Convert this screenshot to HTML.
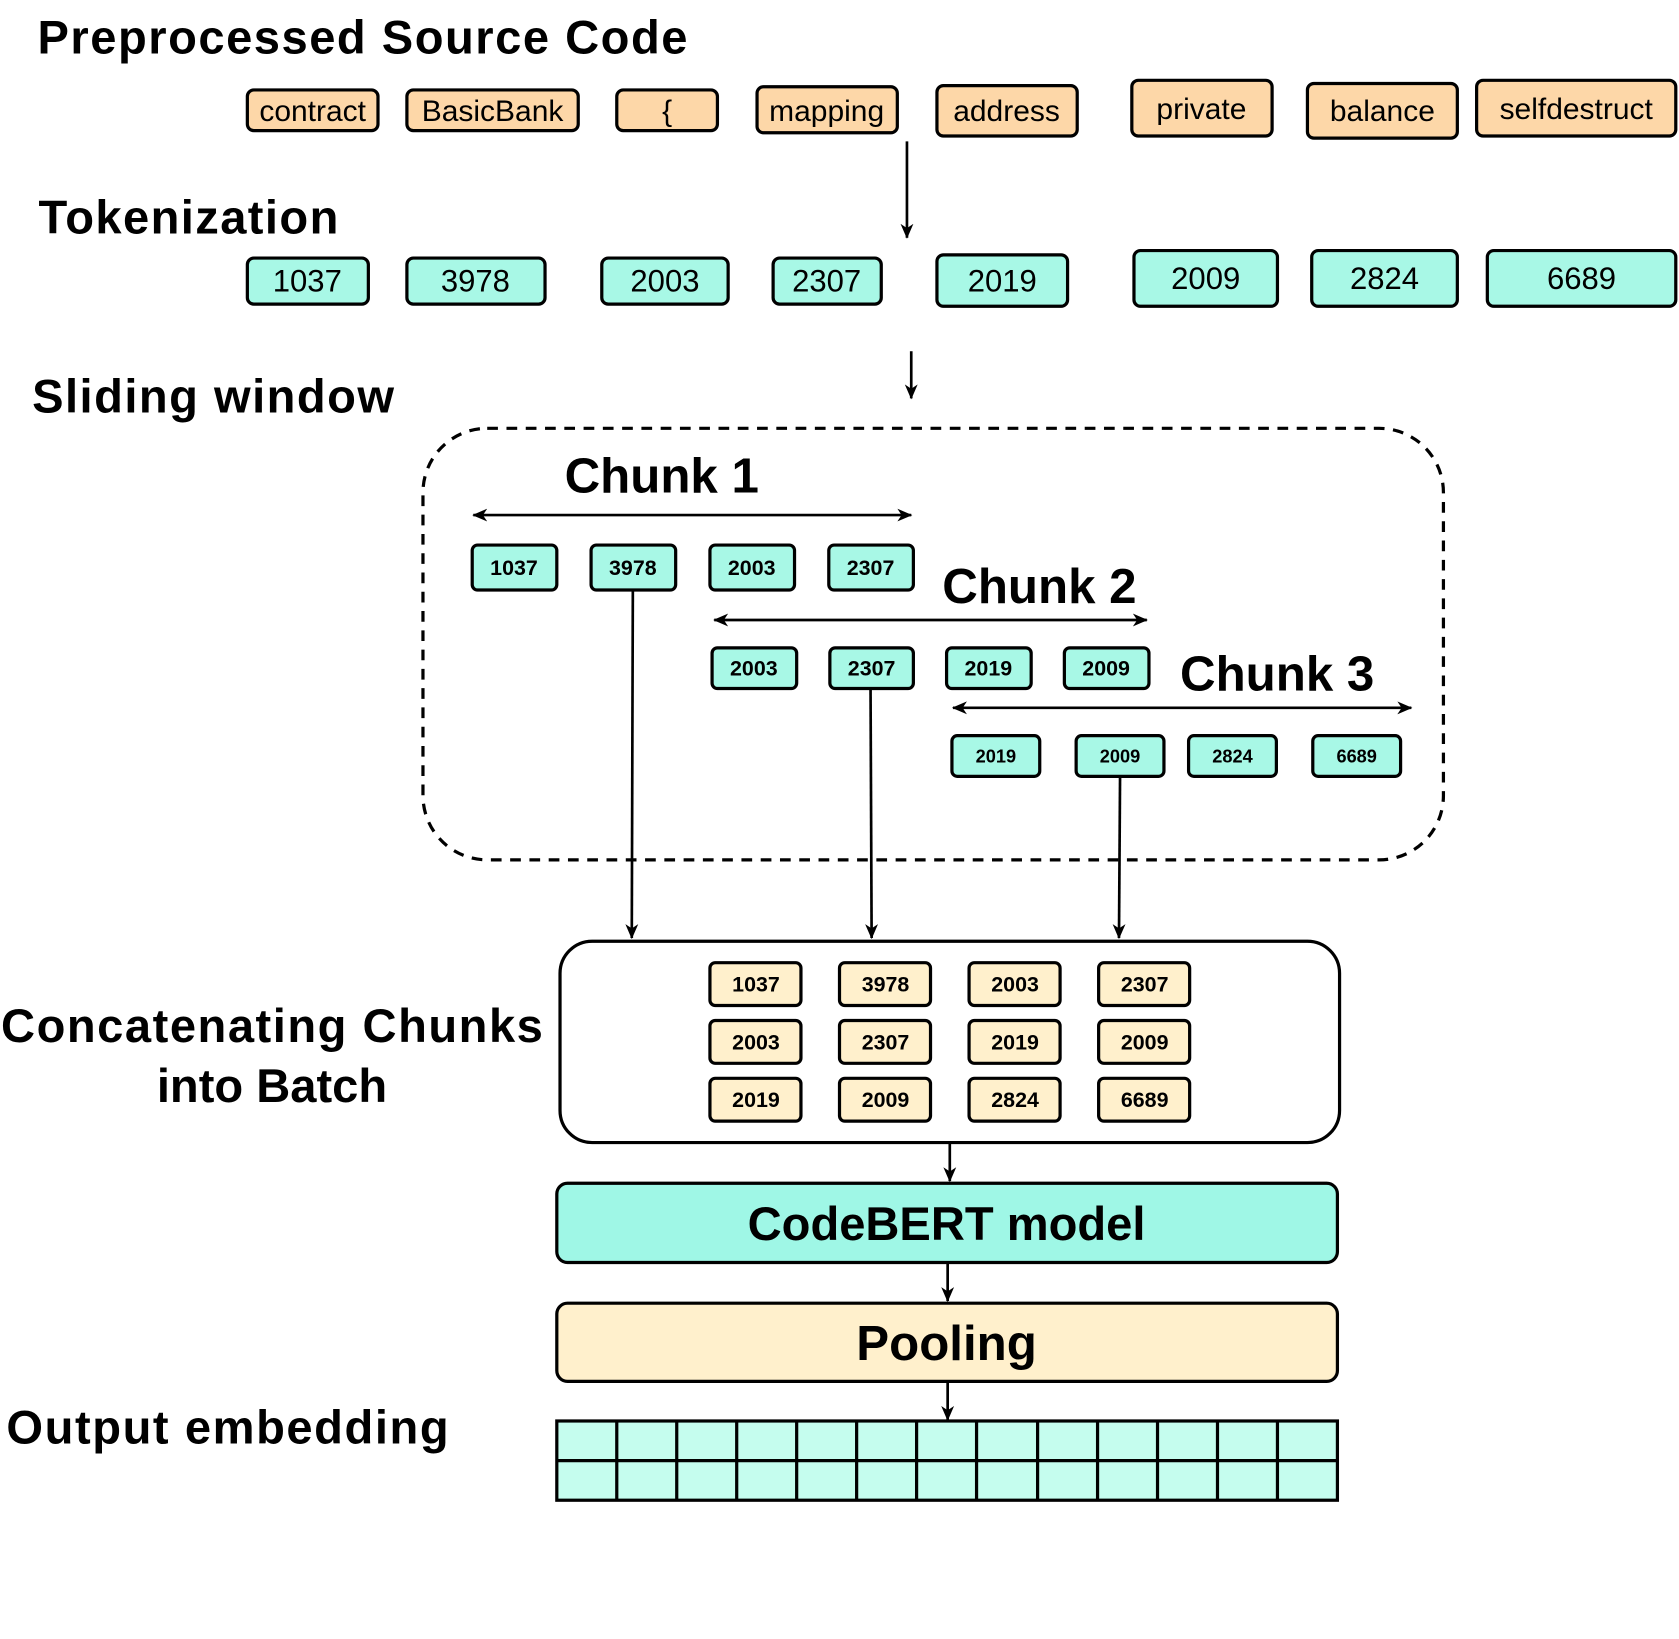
<!DOCTYPE html>
<html><head><meta charset="utf-8"><style>
html,body{margin:0;padding:0;background:#fff;}
svg{display:block;}
text{font-family:"Liberation Sans",Arial,sans-serif;fill:#000;}
.b{font-weight:bold;}
</style></head><body>
<svg width="1679" height="1639" viewBox="0 0 1568 1530.6" preserveAspectRatio="none" xmlns="http://www.w3.org/2000/svg">
<defs>
<marker id="a" markerWidth="14" markerHeight="14" refX="13" refY="7" orient="auto" markerUnits="userSpaceOnUse"><path d="M0,1 L14,7 L0,13 L4,7 z" fill="#000"/></marker>
<marker id="s" markerWidth="14" markerHeight="14" refX="1" refY="7" orient="auto" markerUnits="userSpaceOnUse"><path d="M14,1 L0,7 L14,13 L10,7 z" fill="#000"/></marker>
</defs>
<text x="35" y="50" class="b" font-size="44" textLength="607">Preprocessed Source Code</text>
<g stroke="#000" stroke-width="3" fill="#fdd7a8">
<rect x="231" y="84" width="122" height="38" rx="6"/>
<rect x="380" y="84" width="160" height="38" rx="6"/>
<rect x="576" y="84" width="94" height="38" rx="6"/>
<rect x="707" y="81" width="131" height="43" rx="6"/>
<rect x="875" y="80" width="131" height="47" rx="6"/>
<rect x="1057" y="75" width="131" height="52" rx="6"/>
<rect x="1221" y="78" width="140" height="51" rx="6"/>
<rect x="1379" y="75" width="186" height="52" rx="6"/>
</g>
<g font-size="28" text-anchor="middle">
<text x="292" y="113">contract</text>
<text x="460" y="113">BasicBank</text>
<text x="623" y="113">{</text>
<text x="772" y="113">mapping</text>
<text x="940" y="113">address</text>
<text x="1122" y="111">private</text>
<text x="1291" y="113">balance</text>
<text x="1472" y="111">selfdestruct</text>
</g>
<line x1="847" y1="132" x2="847" y2="222" stroke="#000" stroke-width="2.5" marker-end="url(#a)"/>
<text x="36" y="218" class="b" font-size="44" textLength="280">Tokenization</text>
<g stroke="#000" stroke-width="3" fill="#a8f8e6">
<rect x="231" y="241" width="113" height="43" rx="6"/>
<rect x="380" y="241" width="129" height="43" rx="6"/>
<rect x="562" y="241" width="118" height="43" rx="6"/>
<rect x="722" y="241" width="101" height="43" rx="6"/>
<rect x="875" y="238" width="122" height="48" rx="6"/>
<rect x="1059" y="234" width="134" height="52" rx="6"/>
<rect x="1225" y="234" width="136" height="52" rx="6"/>
<rect x="1389" y="234" width="176" height="52" rx="6"/>
</g>
<g font-size="29" text-anchor="middle">
<text x="287" y="272">1037</text>
<text x="444" y="272">3978</text>
<text x="621" y="272">2003</text>
<text x="772" y="272">2307</text>
<text x="936" y="272">2019</text>
<text x="1126" y="270">2009</text>
<text x="1293" y="270">2824</text>
<text x="1477" y="270">6689</text>
</g>
<line x1="851" y1="328" x2="851" y2="372" stroke="#000" stroke-width="2.5" marker-end="url(#a)"/>
<text x="30" y="385" class="b" font-size="44" textLength="338">Sliding window</text>
<rect x="395" y="400" width="953" height="403" rx="60" fill="none" stroke="#000" stroke-width="3" stroke-dasharray="10,8"/>
<text x="618" y="460" class="b" font-size="46" text-anchor="middle">Chunk 1</text>
<line x1="442" y1="481" x2="851" y2="481" stroke="#000" stroke-width="2.5" marker-start="url(#s)" marker-end="url(#a)"/>
<text x="880" y="563" class="b" font-size="46">Chunk 2</text>
<line x1="667" y1="579" x2="1071" y2="579" stroke="#000" stroke-width="2.5" marker-start="url(#s)" marker-end="url(#a)"/>
<text x="1102" y="645" class="b" font-size="46">Chunk 3</text>
<line x1="890" y1="661" x2="1318" y2="661" stroke="#000" stroke-width="2.5" marker-start="url(#s)" marker-end="url(#a)"/>
<g stroke="#000" stroke-width="3" fill="#a8f8e6">
<rect x="441" y="509" width="79" height="42" rx="5"/>
<rect x="552" y="509" width="79" height="42" rx="5"/>
<rect x="663" y="509" width="79" height="42" rx="5"/>
<rect x="774" y="509" width="79" height="42" rx="5"/>
<rect x="665" y="605" width="79" height="38" rx="5"/>
<rect x="775" y="605" width="78" height="38" rx="5"/>
<rect x="884" y="605" width="79" height="38" rx="5"/>
<rect x="994" y="605" width="79" height="38" rx="5"/>
<rect x="889" y="687" width="82" height="38" rx="5"/>
<rect x="1005" y="687" width="82" height="38" rx="5"/>
<rect x="1110" y="687" width="82" height="38" rx="5"/>
<rect x="1226" y="687" width="82" height="38" rx="5"/>
</g>
<g class="b" font-size="20" text-anchor="middle">
<text x="480" y="537">1037</text><text x="591" y="537">3978</text><text x="702" y="537">2003</text><text x="813" y="537">2307</text>
<text x="704" y="631">2003</text><text x="814" y="631">2307</text><text x="923" y="631">2019</text><text x="1033" y="631">2009</text>
</g>
<g class="b" font-size="17" text-anchor="middle">
<text x="930" y="712">2019</text><text x="1046" y="712">2009</text><text x="1151" y="712">2824</text><text x="1267" y="712">6689</text>
</g>
<g stroke="#000" stroke-width="2.5">
<line x1="591" y1="552" x2="590" y2="876" marker-end="url(#a)"/>
<line x1="813" y1="644" x2="814" y2="876" marker-end="url(#a)"/>
<line x1="1046" y1="726" x2="1045" y2="876" marker-end="url(#a)"/>
</g>
<rect x="523" y="879" width="728" height="188" rx="30" fill="#fff" stroke="#000" stroke-width="3"/>
<g stroke="#000" stroke-width="3" fill="#fff0cc">
<rect x="663" y="899" width="85" height="40" rx="5"/><rect x="784" y="899" width="85" height="40" rx="5"/><rect x="905" y="899" width="85" height="40" rx="5"/><rect x="1026" y="899" width="85" height="40" rx="5"/>
<rect x="663" y="953" width="85" height="40" rx="5"/><rect x="784" y="953" width="85" height="40" rx="5"/><rect x="905" y="953" width="85" height="40" rx="5"/><rect x="1026" y="953" width="85" height="40" rx="5"/>
<rect x="663" y="1007" width="85" height="40" rx="5"/><rect x="784" y="1007" width="85" height="40" rx="5"/><rect x="905" y="1007" width="85" height="40" rx="5"/><rect x="1026" y="1007" width="85" height="40" rx="5"/>
</g>
<g class="b" font-size="20" text-anchor="middle">
<text x="706" y="926">1037</text><text x="827" y="926">3978</text><text x="948" y="926">2003</text><text x="1069" y="926">2307</text>
<text x="706" y="980">2003</text><text x="827" y="980">2307</text><text x="948" y="980">2019</text><text x="1069" y="980">2009</text>
<text x="706" y="1034">2019</text><text x="827" y="1034">2009</text><text x="948" y="1034">2824</text><text x="1069" y="1034">6689</text>
</g>
<text x="254" y="973" class="b" font-size="44" text-anchor="middle" textLength="506">Concatenating Chunks</text>
<text x="254" y="1029" class="b" font-size="44" text-anchor="middle">into Batch</text>
<line x1="887" y1="1067" x2="887" y2="1103" stroke="#000" stroke-width="2.5" marker-end="url(#a)"/>
<rect x="520" y="1105" width="729" height="74" rx="10" fill="#9ff7e6" stroke="#000" stroke-width="3"/>
<text x="884" y="1158" class="b" font-size="44" text-anchor="middle">CodeBERT model</text>
<line x1="885" y1="1180" x2="885" y2="1215" stroke="#000" stroke-width="2.5" marker-end="url(#a)"/>
<rect x="520" y="1217" width="729" height="73" rx="10" fill="#fff0cc" stroke="#000" stroke-width="3"/>
<text x="884" y="1270" class="b" font-size="46" text-anchor="middle">Pooling</text>
<line x1="885" y1="1290" x2="885" y2="1326" stroke="#000" stroke-width="2.5" marker-end="url(#a)"/>
<text x="6" y="1348" class="b" font-size="44" textLength="413">Output embedding</text>
<rect x="520" y="1327" width="729" height="74" fill="#c5fdee" stroke="#000" stroke-width="3"/>
<g stroke="#000" stroke-width="3">
<line x1="520" y1="1364" x2="1249" y2="1364"/>
<line x1="576" y1="1327" x2="576" y2="1401"/><line x1="632" y1="1327" x2="632" y2="1401"/><line x1="688" y1="1327" x2="688" y2="1401"/><line x1="744" y1="1327" x2="744" y2="1401"/><line x1="800" y1="1327" x2="800" y2="1401"/><line x1="856" y1="1327" x2="856" y2="1401"/><line x1="912" y1="1327" x2="912" y2="1401"/><line x1="969" y1="1327" x2="969" y2="1401"/><line x1="1025" y1="1327" x2="1025" y2="1401"/><line x1="1081" y1="1327" x2="1081" y2="1401"/><line x1="1137" y1="1327" x2="1137" y2="1401"/><line x1="1193" y1="1327" x2="1193" y2="1401"/>
</g>
</svg>
</body></html>
